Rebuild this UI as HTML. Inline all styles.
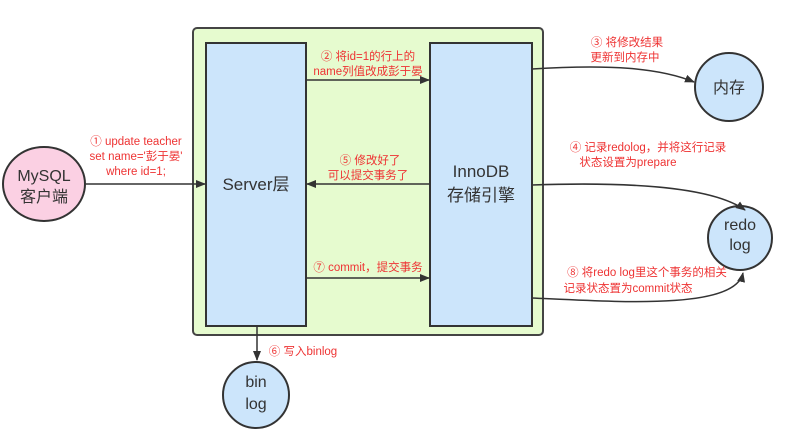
<!DOCTYPE html>
<html><head><meta charset="utf-8"><style>
body{margin:0;background:#fff}
svg text{font-family:"Liberation Sans","Noto Sans CJK SC",sans-serif}
.r{fill:#ee3333;font-size:11.5px;text-anchor:middle}
.b{fill:#333;text-anchor:middle}
</style></head><body>
<svg width="787" height="435" viewBox="0 0 787 435" xmlns="http://www.w3.org/2000/svg">
<defs><marker id="a" markerWidth="10" markerHeight="8" refX="9" refY="4" orient="auto" markerUnits="userSpaceOnUse"><path d="M0,0 L10,4 L0,8 z" fill="#333"/></marker></defs>
<rect x="193" y="28" width="350" height="307" rx="4" fill="#e6fbcf" stroke="#444" stroke-width="2"/>
<rect x="206" y="43" width="100" height="283" fill="#cce5fb" stroke="#333" stroke-width="2"/>
<rect x="430" y="43" width="102" height="283" fill="#cce5fb" stroke="#333" stroke-width="2"/>
<text class="b" x="256" y="190" font-size="17">Server层</text>
<text class="b" x="481" y="177" font-size="17">InnoDB</text>
<text class="b" x="481" y="201" font-size="17">存储引擎</text>
<ellipse cx="44" cy="184" rx="41" ry="37" fill="#fbd0e3" stroke="#333" stroke-width="2"/>
<text class="b" x="44" y="181" font-size="16">MySQL</text>
<text class="b" x="44" y="202" font-size="16">客户端</text>
<circle cx="729" cy="87" r="34" fill="#cce5fb" stroke="#333" stroke-width="2"/>
<text class="b" x="729" y="93" font-size="16">内存</text>
<circle cx="740" cy="238" r="32" fill="#cce5fb" stroke="#333" stroke-width="2"/>
<text class="b" x="740" y="230" font-size="16">redo</text>
<text class="b" x="740" y="250" font-size="16">log</text>
<circle cx="256" cy="395" r="33" fill="#cce5fb" stroke="#333" stroke-width="2"/>
<text class="b" x="256" y="387" font-size="16">bin</text>
<text class="b" x="256" y="409" font-size="16">log</text>
<g stroke="#333" stroke-width="1.5" fill="none" marker-end="url(#a)">
<line x1="86" y1="184" x2="205" y2="184"/>
<line x1="306" y1="80" x2="429" y2="80"/>
<line x1="430" y1="184" x2="307" y2="184"/>
<line x1="306" y1="278" x2="429" y2="278"/>
<line x1="257" y1="326" x2="257" y2="360"/>
<path d="M532,69 C610,64 660,68 694,82"/>
<path d="M532,185 C620,182 710,185 745,210"/>
<path d="M532,298 C620,302 735,310 743,273"/>
</g>
<text class="r" x="136" y="145">① update teacher</text>
<text class="r" x="136" y="160">set name='彭于晏'</text>
<text class="r" x="136" y="175">where id=1;</text>
<text class="r" x="368" y="60">② 将id=1的行上的</text>
<text class="r" x="368" y="75">name列值改成彭于晏</text>
<text class="r" x="370" y="164">⑤ 修改好了</text>
<text class="r" x="368" y="179">可以提交事务了</text>
<text class="r" x="368" y="271">⑦ commit，提交事务</text>
<text class="r" x="627" y="46">③ 将修改结果</text>
<text class="r" x="625" y="61">更新到内存中</text>
<text class="r" x="648" y="151">④ 记录redolog，并将这行记录</text>
<text class="r" x="628" y="166">状态设置为prepare</text>
<text class="r" x="647" y="276">⑧ 将redo log里这个事务的相关</text>
<text class="r" x="628" y="292">记录状态置为commit状态</text>
<text class="r" x="303" y="355" style="text-anchor:middle">⑥ 写入binlog</text>
</svg>
</body></html>
